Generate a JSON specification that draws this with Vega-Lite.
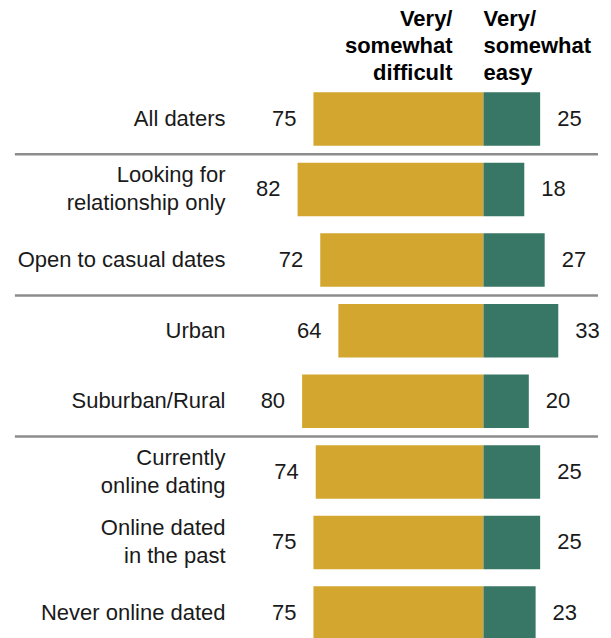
{
  "$schema": "https://vega.github.io/schema/vega-lite/v6.json",
  "width": 371,
  "height": 635.4,
  "autosize": {"type": "none"},
  "padding": {"left": 240, "top": 13, "right": 0, "bottom": 0},
  "background": "white",
  "config": {"view": {"stroke": null}, "font": "Liberation Sans"},
  "datasets": {
    "rows": [
      {"group": "All daters", "difficult": 75, "easy": 25},
      {"group": "Looking for\nrelationship only", "difficult": 82, "easy": 18},
      {"group": "Open to casual dates", "difficult": 72, "easy": 27},
      {"group": "Urban", "difficult": 64, "easy": 33},
      {"group": "Suburban/Rural", "difficult": 80, "easy": 20},
      {"group": "Currently\nonline dating", "difficult": 74, "easy": 25},
      {"group": "Online dated\nin the past", "difficult": 75, "easy": 25},
      {"group": "Never online dated", "difficult": 75, "easy": 23}
    ],
    "seps": [
      {"group": "Looking for\nrelationship only"},
      {"group": "Urban"},
      {"group": "Currently\nonline dating"}
    ]
  },
  "resolve": {"scale": {"x": "independent"}},
  "encoding": {
    "y": {
      "field": "group",
      "type": "nominal",
      "title": null,
      "scale": {
        "domain": ["h", "All daters", "Looking for\nrelationship only", "Open to casual dates", "Urban", "Suburban/Rural", "Currently\nonline dating", "Online dated\nin the past", "Never online dated"],
        "paddingInner": 0.242,
        "paddingOuter": 0.121
      },
      "axis": {
        "domain": false,
        "ticks": false,
        "labelPadding": 15,
        "labelFontSize": 22,
        "labelColor": "#1a1a1a",
        "labelLineHeight": 28,
        "labelLimit": 300,
        "labelOffset": {"condition": {"test": "indexof(datum.value, '\\n') >= 0", "value": -14}, "value": 0},
        "labelExpr": "datum.value == 'h' ? '' : split(datum.value, '\\n')"
      }
    }
  },
  "layer": [
    {
      "data": {"name": "rows"},
      "mark": {"type": "bar", "color": "#d3a62f"},
      "encoding": {
        "x": {"field": "difficult", "type": "quantitative", "scale": {"domain": [-56.25, 107.4], "reverse": true, "nice": false, "zero": false}, "axis": null},
        "x2": {"datum": 0}
      }
    },
    {
      "data": {"name": "rows"},
      "mark": {"type": "text", "align": "right", "baseline": "middle", "dx": -17, "fontSize": 22, "color": "#1a1a1a"},
      "encoding": {
        "x": {"field": "difficult", "type": "quantitative", "scale": {"domain": [-56.25, 107.4], "reverse": true, "nice": false, "zero": false}, "axis": null},
        "text": {"field": "difficult", "type": "quantitative"}
      }
    },
    {
      "data": {"name": "rows"},
      "mark": {"type": "bar", "color": "#387766"},
      "encoding": {
        "x": {"field": "easy", "type": "quantitative", "scale": {"domain": [-107.4, 56.25], "nice": false, "zero": false}, "axis": null},
        "x2": {"datum": 0}
      }
    },
    {
      "data": {"name": "rows"},
      "mark": {"type": "text", "align": "left", "baseline": "middle", "dx": 17, "fontSize": 22, "color": "#1a1a1a"},
      "encoding": {
        "x": {"field": "easy", "type": "quantitative", "scale": {"domain": [-107.4, 56.25], "nice": false, "zero": false}, "axis": null},
        "text": {"field": "easy", "type": "quantitative"}
      }
    },
    {
      "data": {"name": "seps"},
      "mark": {"type": "rule", "stroke": "#8c8c8c", "strokeWidth": 2.5},
      "encoding": {
        "y": {"field": "group", "type": "nominal", "bandPosition": -0.16},
        "x": {"datum": -206.7, "type": "quantitative", "scale": {"domain": [-107.4, 56.25], "nice": false, "zero": false}, "axis": null},
        "x2": {"datum": 50.5}
      }
    },
    {
      "data": {"values": [{"group": "h", "label": "Very/\nsomewhat\ndifficult"}]},
      "mark": {"type": "text", "align": "right", "baseline": "middle", "dx": -31, "dy": -29, "fontSize": 22, "fontWeight": "bold", "lineHeight": 27, "lineBreak": "\n", "color": "#000000"},
      "encoding": {
        "x": {"datum": 0, "type": "quantitative", "scale": {"domain": [-107.4, 56.25], "nice": false, "zero": false}, "axis": null},
        "text": {"field": "label"}
      }
    },
    {
      "data": {"values": [{"group": "h", "label": "Very/\nsomewhat\neasy"}]},
      "mark": {"type": "text", "align": "left", "baseline": "middle", "dx": 0, "dy": -29, "fontSize": 22, "fontWeight": "bold", "lineHeight": 27, "lineBreak": "\n", "color": "#000000"},
      "encoding": {
        "x": {"datum": 0, "type": "quantitative", "scale": {"domain": [-107.4, 56.25], "nice": false, "zero": false}, "axis": null},
        "text": {"field": "label"}
      }
    }
  ]
}
